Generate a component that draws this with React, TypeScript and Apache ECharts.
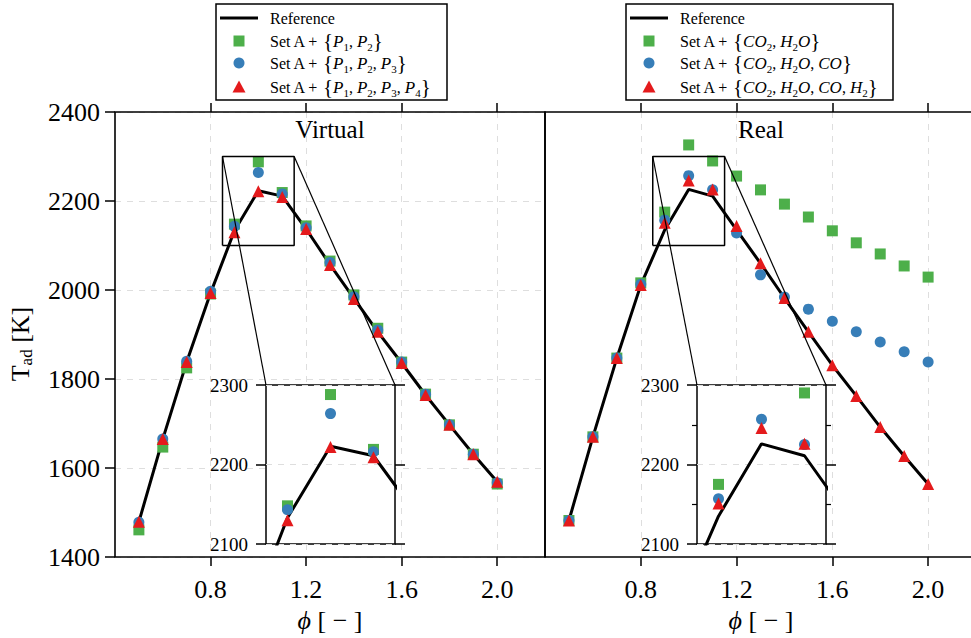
import React, { useEffect, useRef } from 'react';
import * as echarts from 'echarts';

const phi = [0.5, 0.6, 0.7, 0.8, 0.9, 1.0, 1.1, 1.2, 1.3, 1.4, 1.5, 1.6, 1.7, 1.8, 1.9, 2.0];

// Virtual panel
const refVirtual = [1479, 1665, 1838, 1993, 2133, 2223, 2211, 2137, 2057, 1981, 1906, 1836, 1764, 1697, 1631, 1569];
const sqVirtual = [1461, 1647, 1825, 1991, 2148, 2288, 2219, 2144, 2065, 1989, 1914, 1838, 1766, 1697, 1631, 1564];
const ciVirtual = [1478, 1665, 1840, 1997, 2143, 2264, 2216, 2140, 2062, 1985, 1910, 1838, 1766, 1697, 1631, 1567];
const trVirtual = [1479, 1665, 1838, 1993, 2130, 2222, 2209, 2137, 2056, 1980, 1906, 1836, 1764, 1697, 1631, 1569];

// Real panel
const refReal = [1482, 1670, 1847, 2011, 2135, 2226, 2211, 2135, 2060, 1982, 1906, 1831, 1762, 1692, 1627, 1564];
const sqReal = [1482, 1670, 1847, 2016, 2175, 2326, 2290, 2256, 2225, 2193, 2164, 2133, 2106, 2081, 2054, 2029];
const ciReal = [1482, 1670, 1847, 2013, 2157, 2257, 2225, 2128, 2034, 1984, 1957, 1930, 1906, 1883, 1861, 1838];
const trReal = [1482, 1670, 1847, 2011, 2151, 2246, 2226, 2144, 2060, 1982, 1906, 1831, 1762, 1692, 1627, 1564];

const xTickValues = [0.8, 1.2, 1.6, 2.0];
const xRange = [0.4, 2.2];
const yRange = [1400, 2400];
const yInterval = 200;
const insetX = [0.85, 1.15];
const insetY = [2100, 2300];
const insetInterval = 100;

const panelTitles = ['Virtual', 'Real'];
const legendLeft = [
  'Reference',
  [[['i', 'P'], ['s', '1']], [['i', 'P'], ['s', '2']]],
  [[['i', 'P'], ['s', '1']], [['i', 'P'], ['s', '2']], [['i', 'P'], ['s', '3']]],
  [[['i', 'P'], ['s', '1']], [['i', 'P'], ['s', '2']], [['i', 'P'], ['s', '3']], [['i', 'P'], ['s', '4']]],
];
const CO2 = [['i', 'CO'], ['s', '2']];
const H2O = [['i', 'H'], ['s', '2'], ['i', 'O']];
const CO = [['i', 'CO']];
const H2 = [['i', 'H'], ['s', '2']];
const legendRight = ['Reference', [CO2, H2O], [CO2, H2O, CO], [CO2, H2O, CO, H2]];

const GREEN = '#4daf4a';
const BLUE = '#377eb8';
const RED = '#e41a1c';
const FONT = "'Liberation Serif', 'Times New Roman', serif";
const GRIDC = '#dedede';

const pairs = (ys: number[]) => phi.map((x, i) => [x, ys[i]]);

function richLabel(items: any): string {
  if (typeof items === 'string') return `{n|${items}}`;
  const parts = (items as string[][][]).map((it) => it.map(([s, t]) => `{${s}|${t}}`).join(''));
  return `{n|Set A + }{b|{}` + parts.join('{n|, }') + '}';
}

const legendRich = {
  n: { fontFamily: FONT, fontSize: 16, lineHeight: 22, fill: '#000', verticalAlign: 'middle' },
  i: { fontFamily: FONT, fontSize: 17, fontStyle: 'italic', lineHeight: 22, fill: '#000', verticalAlign: 'middle' },
  s: { fontFamily: FONT, fontSize: 11, lineHeight: 13, fill: '#000', verticalAlign: 'bottom' },
  b: { fontFamily: FONT, fontSize: 21, lineHeight: 22, fill: '#000', verticalAlign: 'middle' },
};

const plain = (v: number) => String(Math.round(v));

export default function App() {
  const ref = useRef<HTMLDivElement>(null);
  useEffect(() => {
    document.body.style.margin = '0';
    const chart = echarts.init(ref.current!, null, { renderer: 'svg' });

    const mainX = (gridIndex: number, top: boolean, grid: boolean) => ({
      type: 'value',
      gridIndex,
      position: top ? 'top' : 'bottom',
      min: xRange[0],
      max: xRange[1],
      interval: 0.4,
      axisLine: { show: false },
      axisTick: { show: true, inside: false, length: 9, customValues: xTickValues, lineStyle: { color: '#000', width: 1.5 } },
      axisLabel: {
        show: !top,
        customValues: xTickValues,
        margin: 19,
        fontFamily: FONT,
        fontSize: 26,
        color: '#000',
        formatter: (v: number) => (xTickValues.some((t) => Math.abs(t - v) < 1e-6) ? v.toFixed(1) : ''),
      },
      splitLine: { show: grid, lineStyle: { color: GRIDC, type: [6, 6], width: 1 } },
    });

    const insetXAxis = (gridIndex: number) => ({
      type: 'value',
      gridIndex,
      min: insetX[0],
      max: insetX[1],
      axisLine: { show: false },
      axisTick: { show: false },
      axisLabel: { show: false },
      splitLine: { show: false },
      z: 11,
    });

    const insetYAxis = (gridIndex: number, right: boolean, minor: boolean) => ({
      type: 'value',
      gridIndex,
      position: right ? 'right' : 'left',
      min: insetY[0],
      max: insetY[1],
      interval: insetInterval,
      axisLine: { show: false },
      axisTick: { show: true, inside: false, length: 10, lineStyle: { color: '#000', width: 1.5 } },
      minorTick: { show: minor, splitNumber: 2, length: 5, lineStyle: { color: '#000', width: 1.2 } },
      axisLabel: { show: !right, margin: 18, fontFamily: FONT, fontSize: 19, color: '#000', formatter: plain },
      splitLine: { show: !right, lineStyle: { color: GRIDC, type: [6, 6], width: 1 } },
      z: 11,
    });

    const panelSeries = (xi: number, yi: number, ref: number[], sq: number[], ci: number[], tr: number[], z: number) => [
      { type: 'line', xAxisIndex: xi, yAxisIndex: yi, data: pairs(ref), symbol: 'none', lineStyle: { color: '#000', width: 3 }, z, silent: true, clip: true },
      { type: 'scatter', xAxisIndex: xi, yAxisIndex: yi, data: pairs(sq), symbol: 'rect', symbolSize: 11, itemStyle: { color: GREEN, opacity: 1 }, z, silent: true, clip: true },
      { type: 'scatter', xAxisIndex: xi, yAxisIndex: yi, data: pairs(ci), symbol: 'circle', symbolSize: 11, itemStyle: { color: BLUE, opacity: 1 }, z, silent: true, clip: true },
      { type: 'scatter', xAxisIndex: xi, yAxisIndex: yi, data: pairs(tr), symbol: 'triangle', symbolSize: 12, itemStyle: { color: RED, opacity: 1 }, z, silent: true, clip: true },
    ];

    const boxData = [
      [insetX[0], insetY[0]],
      [insetX[1], insetY[0]],
      [insetX[1], insetY[1]],
      [insetX[0], insetY[1]],
      [insetX[0], insetY[0]],
    ];
    const boxSeries = (xi: number, yi: number) => ({
      type: 'line', xAxisIndex: xi, yAxisIndex: yi, data: boxData, symbol: 'none',
      lineStyle: { color: '#000', width: 1.5 }, z: 4, silent: true,
    });

    const option: any = {
      animation: false,
      backgroundColor: '#fff',
      grid: [
        { left: 115, top: 112, width: 430, height: 445, show: true, borderColor: '#000', borderWidth: 1.6, backgroundColor: 'transparent', z: 1, outerBoundsMode: 'none' },
        { left: 545, top: 112, width: 431, height: 445, show: true, borderColor: '#000', borderWidth: 1.6, backgroundColor: 'transparent', z: 1, outerBoundsMode: 'none' },
        { left: 266, top: 385, width: 129, height: 159, show: true, borderColor: '#000', borderWidth: 1.5, backgroundColor: '#fff', z: 10, outerBoundsMode: 'none' },
        { left: 697, top: 385, width: 129, height: 159, show: true, borderColor: '#000', borderWidth: 1.5, backgroundColor: '#fff', z: 10, outerBoundsMode: 'none' },
      ],
      xAxis: [mainX(0, false, true), mainX(0, true, false), mainX(1, false, true), mainX(1, true, false), insetXAxis(2), insetXAxis(3)],
      yAxis: [
        {
          type: 'value', gridIndex: 0, min: yRange[0], max: yRange[1], interval: yInterval,
          axisLine: { show: false },
          axisTick: { show: true, inside: false, length: 10, lineStyle: { color: '#000', width: 1.5 } },
          axisLabel: { margin: 15, fontFamily: FONT, fontSize: 26, color: '#000', formatter: plain },
          splitLine: { show: true, lineStyle: { color: GRIDC, type: [6, 6], width: 1 } },
        },
        {
          type: 'value', gridIndex: 1, min: yRange[0], max: yRange[1], interval: yInterval,
          axisLine: { show: false }, axisTick: { show: false }, axisLabel: { show: false },
          splitLine: { show: false }, splitArea: { show: false }, minorSplitLine: { show: false },
        },
        insetYAxis(2, false, false),
        insetYAxis(2, true, false),
        insetYAxis(3, false, true),
        insetYAxis(3, true, true),
      ],
      series: [
        ...panelSeries(0, 0, refVirtual, sqVirtual, ciVirtual, trVirtual, 2),
        ...panelSeries(2, 1, refReal, sqReal, ciReal, trReal, 2),
        boxSeries(0, 0),
        boxSeries(2, 1),
        ...panelSeries(4, 2, refVirtual, sqVirtual, ciVirtual, trVirtual, 12),
        ...panelSeries(5, 4, refReal, sqReal, ciReal, trReal, 12),
      ],
    };
    chart.setOption(option);

    const px = (xi: number, yi: number, pt: number[]) => chart.convertToPixel({ xAxisIndex: xi, yAxisIndex: yi } as any, pt) as number[];
    const connectors: any[] = [];
    [[0, 0, 4, 2], [2, 1, 5, 4]].forEach(([mx, my, ix, iy]) => {
      [insetX[0], insetX[1]].forEach((xv) => {
        const a = px(mx, my, [xv, insetY[1]]);
        const b = px(ix, iy, [xv, insetY[1]]);
        connectors.push({ type: 'line', z: 8, silent: true, shape: { x1: a[0], y1: a[1], x2: b[0], y2: b[1] }, style: { stroke: '#000', lineWidth: 1.2 } });
      });
    });

    const legendGroup = (x0: number, w: number, entries: any[]) => {
      const rows = [18, 41, 63, 87];
      const mx = x0 + 23;
      const els: any[] = [
        { type: 'rect', shape: { x: x0, y: 4, width: w, height: 96 }, style: { fill: '#fff', stroke: '#000', lineWidth: 1.5 }, z: 20 },
        { type: 'line', shape: { x1: x0 + 4, y1: rows[0], x2: x0 + 42, y2: rows[0] }, style: { stroke: '#000', lineWidth: 3 }, z: 21 },
        { type: 'rect', shape: { x: mx - 5.5, y: rows[1] - 5.5, width: 11, height: 11 }, style: { fill: GREEN }, z: 21 },
        { type: 'circle', shape: { cx: mx, cy: rows[2], r: 5.5 }, style: { fill: BLUE }, z: 21 },
        { type: 'polygon', shape: { points: [[mx, rows[3] - 6.5], [mx + 6.5, rows[3] + 5.5], [mx - 6.5, rows[3] + 5.5]] }, style: { fill: RED }, z: 21 },
      ];
      entries.forEach((e, k) => {
        els.push({
          type: 'text', x: x0 + 54, y: rows[k], z: 21,
          style: {
            text: richLabel(e), rich: legendRich, fontFamily: FONT, fontSize: 21, fill: '#000',
            align: 'left', verticalAlign: 'middle', textAlign: 'left', textVerticalAlign: 'middle',
          },
        });
      });
      return els;
    };

    const titleText = (x: number, text: string) => ({
      type: 'text', x, y: 129, z: 21,
      style: { text, fontFamily: FONT, fontSize: 25, fill: '#000', align: 'center', verticalAlign: 'middle', textAlign: 'center', textVerticalAlign: 'middle' },
    });
    const xTitle = (x: number) => ({
      type: 'text', x, y: 620, z: 21,
      style: {
        text: '{i|ϕ}{n| [ − ]}',
        rich: {
          i: { fontFamily: FONT, fontSize: 26, fontStyle: 'italic', fill: '#000' },
          n: { fontFamily: FONT, fontSize: 26, fill: '#000' },
        },
        align: 'center', verticalAlign: 'middle', textAlign: 'center', textVerticalAlign: 'middle',
      },
    });
    const yTitle = {
      type: 'text', x: 20, y: 344, rotation: Math.PI / 2, z: 21,
      style: {
        text: '{t|T}{s|ad}{t| [K]}',
        rich: {
          t: { fontFamily: FONT, fontSize: 26, lineHeight: 30, fill: '#000', verticalAlign: 'middle' },
          s: { fontFamily: FONT, fontSize: 17, lineHeight: 20, fill: '#000', verticalAlign: 'bottom' },
        },
        align: 'center', verticalAlign: 'middle', textAlign: 'center', textVerticalAlign: 'middle',
      },
    };

    chart.setOption({
      graphic: [
        ...connectors,
        titleText(330, panelTitles[0]),
        titleText(761, panelTitles[1]),
        xTitle(330),
        xTitle(761),
        yTitle,
        ...legendGroup(216, 231, legendLeft),
        ...legendGroup(626, 267, legendRight),
      ],
    });

    return () => chart.dispose();
  }, []);
  return <div ref={ref} style={{ width: 971, height: 638 }} />;
}
